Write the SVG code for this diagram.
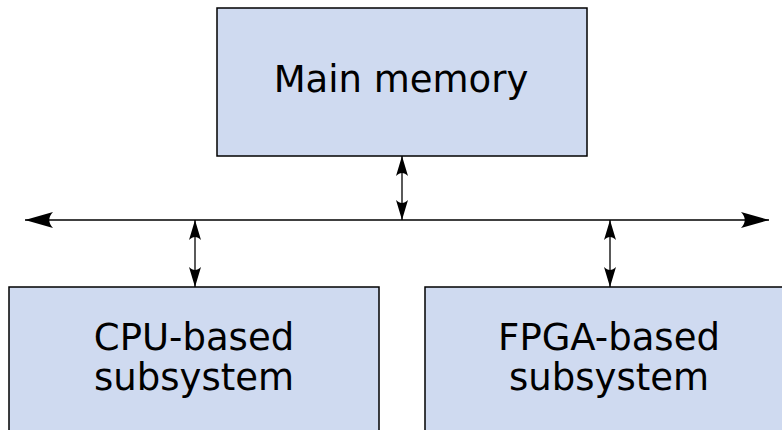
<svg xmlns="http://www.w3.org/2000/svg" width="782" height="430" viewBox="0 0 782 430">
  <style>
    .box { fill: #cfdaf0; stroke: #000; stroke-width: 1.5; }
    .label { font-family: "DejaVu Sans", "Liberation Sans", sans-serif; font-size: 37px; fill: #000; text-anchor: middle; }
    .bus { stroke: #000; stroke-width: 1.6; fill: none; marker-start: url(#headBig); marker-end: url(#headBig); }
    .link { stroke: #000; stroke-width: 1.3; fill: none; marker-start: url(#headSmall); marker-end: url(#headSmall); }
  </style>
  <defs>
    <marker id="headBig" markerUnits="userSpaceOnUse" viewBox="-30 -10 32 20" markerWidth="32" markerHeight="20" refX="0" refY="0" orient="auto-start-reverse" overflow="visible">
      <path d="M0,0 L-28,-8 C-23,-3 -23,3 -28,8 Z" fill="#000"/>
    </marker>
    <marker id="headSmall" markerUnits="userSpaceOnUse" viewBox="-22 -8 24 16" markerWidth="24" markerHeight="16" refX="0" refY="0" orient="auto-start-reverse" overflow="visible">
      <path d="M0,0 L-20,-6 C-16,-2 -16,2 -20,6 Z" fill="#000"/>
    </marker>
  </defs>

  <g id="main-memory">
    <rect class="box" x="217" y="8" width="370" height="148"/>
    <text class="label" x="401" y="92">Main memory</text>
  </g>

  <g id="cpu-subsystem">
    <rect class="box" x="9" y="287" width="370" height="160"/>
    <text class="label" x="194" y="350">CPU-based</text>
    <text class="label" x="194" y="390">subsystem</text>
  </g>

  <g id="fpga-subsystem">
    <rect class="box" x="425" y="287" width="370" height="160"/>
    <text class="label" x="609" y="350">FPGA-based</text>
    <text class="label" x="609" y="390">subsystem</text>
  </g>

  <g id="connectors">
    <line class="bus" x1="25" y1="220" x2="769" y2="220"/>
    <line class="link" x1="402" y1="156" x2="402" y2="220"/>
    <line class="link" x1="195" y1="220" x2="195" y2="287"/>
    <line class="link" x1="610" y1="220" x2="610" y2="287"/>
  </g>
</svg>
